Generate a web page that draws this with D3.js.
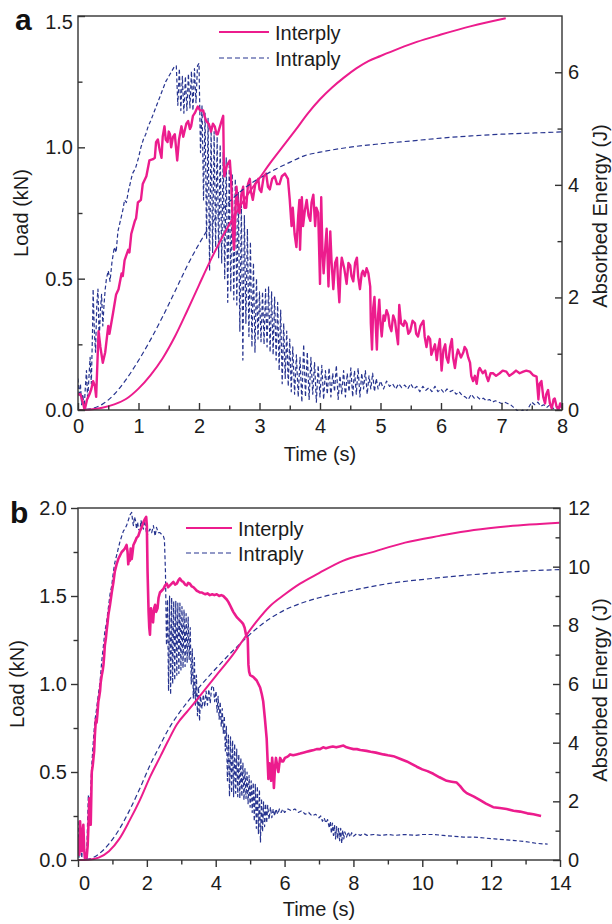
<!DOCTYPE html>
<html><head><meta charset="utf-8">
<script src="https://cdn.jsdelivr.net/npm/d3@7"></script>
<style>
html,body{margin:0;padding:0;background:#fff;}
svg{display:block;font-family:"Liberation Sans",Arial,Helvetica,sans-serif;}
</style></head><body>
<svg id="chart" width="612" height="924"></svg>
<script>
// ---------- DATA (time s, value) ----------
const seriesNames = ["Interply", "Intraply"];

// Panel a : load (kN)
const aInterLoad = [[0,0.06],[0.04,0.06],[0.08,0.03],[0.11,0.0],[0.15,0.04],[0.19,0.06],[0.22,0.08],[0.25,0.11],[0.28,0.09],[0.30,0.05],[0.34,0.30],[0.37,0.24],[0.41,0.18],[0.45,0.22],[0.50,0.32],[0.52,0.29],[0.58,0.37],[0.63,0.44],[0.67,0.46],[0.72,0.52],[0.74,0.51],[0.77,0.57],[0.83,0.61],[0.85,0.60],[0.88,0.67],[0.94,0.72],[0.96,0.73],[0.99,0.79],[1.04,0.80],[1.07,0.86],[1.13,0.89],[1.18,0.95],[1.24,0.955],[1.27,0.96],[1.29,1.02],[1.32,1.03],[1.35,0.99],[1.38,0.96],[1.40,1.04],[1.43,1.08],[1.45,1.03],[1.48,1.02],[1.50,1.06],[1.52,1.05],[1.54,1.0],[1.57,1.04],[1.60,1.05],[1.62,1.0],[1.64,0.95],[1.67,1.03],[1.71,1.08],[1.74,1.04],[1.76,1.06],[1.79,1.09],[1.82,1.10],[1.85,1.07],[1.87,1.08],[1.90,1.12],[1.93,1.13],[1.98,1.155],[2.02,1.14],[2.07,1.14],[2.09,1.12],[2.12,1.10],[2.16,1.09],[2.20,1.06],[2.23,1.09],[2.26,1.08],[2.29,1.05],[2.31,1.05],[2.36,1.09],[2.40,1.12],[2.41,0.95],[2.42,0.89],[2.46,0.93],[2.51,0.95],[2.53,0.88],[2.55,0.76],[2.56,0.67],[2.58,0.61],[2.60,0.75],[2.62,0.85],[2.64,0.79],[2.67,0.75],[2.70,0.82],[2.73,0.85],[2.75,0.77],[2.78,0.77],[2.81,0.86],[2.84,0.88],[2.86,0.83],[2.89,0.80],[2.93,0.86],[2.98,0.88],[3.0,0.84],[3.03,0.83],[3.07,0.89],[3.11,0.90],[3.14,0.85],[3.17,0.84],[3.21,0.88],[3.25,0.89],[3.29,0.86],[3.33,0.86],[3.37,0.89],[3.42,0.90],[3.47,0.88],[3.50,0.80],[3.53,0.70],[3.55,0.77],[3.58,0.67],[3.61,0.62],[3.64,0.74],[3.66,0.80],[3.67,0.61],[3.70,0.81],[3.72,0.70],[3.75,0.76],[3.78,0.80],[3.81,0.74],[3.84,0.72],[3.86,0.79],[3.89,0.82],[3.92,0.70],[3.94,0.77],[3.97,0.75],[4.00,0.48],[4.02,0.81],[4.04,0.61],[4.06,0.52],[4.09,0.63],[4.11,0.69],[4.14,0.47],[4.17,0.68],[4.19,0.57],[4.22,0.46],[4.25,0.56],[4.28,0.58],[4.30,0.48],[4.32,0.41],[4.34,0.53],[4.36,0.58],[4.40,0.54],[4.44,0.48],[4.47,0.56],[4.50,0.55],[4.52,0.51],[4.55,0.49],[4.58,0.56],[4.61,0.58],[4.63,0.51],[4.66,0.46],[4.69,0.52],[4.71,0.53],[4.74,0.51],[4.77,0.54],[4.80,0.52],[4.83,0.47],[4.84,0.33],[4.86,0.23],[4.88,0.39],[4.90,0.43],[4.92,0.33],[4.94,0.23],[4.96,0.36],[4.98,0.42],[5.0,0.33],[5.02,0.28],[5.05,0.36],[5.07,0.34],[5.10,0.38],[5.13,0.36],[5.15,0.32],[5.18,0.30],[5.21,0.36],[5.24,0.34],[5.26,0.30],[5.29,0.25],[5.31,0.40],[5.34,0.33],[5.38,0.32],[5.40,0.34],[5.43,0.33],[5.46,0.29],[5.49,0.30],[5.53,0.34],[5.57,0.33],[5.59,0.29],[5.62,0.28],[5.66,0.32],[5.71,0.34],[5.73,0.28],[5.76,0.24],[5.79,0.28],[5.82,0.27],[5.84,0.21],[5.87,0.23],[5.90,0.25],[5.93,0.19],[5.95,0.23],[5.98,0.27],[6.01,0.15],[6.04,0.23],[6.07,0.25],[6.09,0.20],[6.12,0.18],[6.15,0.24],[6.18,0.27],[6.20,0.20],[6.23,0.16],[6.26,0.21],[6.28,0.23],[6.33,0.20],[6.37,0.22],[6.39,0.24],[6.42,0.23],[6.45,0.20],[6.48,0.18],[6.50,0.13],[6.53,0.11],[6.56,0.13],[6.59,0.10],[6.62,0.15],[6.64,0.16],[6.69,0.14],[6.73,0.15],[6.75,0.13],[6.78,0.11],[6.82,0.14],[6.86,0.14],[6.91,0.13],[6.97,0.14],[7.02,0.15],[7.08,0.146],[7.13,0.13],[7.19,0.14],[7.24,0.15],[7.30,0.14],[7.36,0.146],[7.41,0.15],[7.47,0.146],[7.52,0.133],[7.58,0.127],[7.61,0.04],[7.63,0.10],[7.66,0.11],[7.69,0.05],[7.72,0.025],[7.74,0.06],[7.77,0.076],[7.80,0.025],[7.83,0.006],[7.86,0.04],[7.88,0.044],[7.91,0.013],[7.94,0.0],[7.97,0.025],[8.0,0.006]];

const aIntraLoad = [[0,0.12],[0.02,0.05],[0.04,0.1],[0.06,0.02],[0.08,0.06],[0.1,0.0],[0.12,0.08],[0.14,0.15],[0.16,0.04],[0.18,0.12],[0.2,0.2],[0.22,0.1],[0.24,0.3],[0.25,0.46],[0.27,0.3],[0.29,0.22],[0.31,0.40],[0.33,0.46],[0.35,0.26],[0.37,0.38],[0.39,0.44],[0.41,0.32],[0.43,0.40],[0.45,0.46],[0.47,0.50],[0.5,0.53],[0.53,0.49],[0.56,0.56],[0.6,0.62],[0.63,0.60],[0.66,0.68],[0.7,0.72],[0.74,0.76],[0.77,0.80],[0.8,0.79],[0.83,0.83],[0.87,0.87],[0.9,0.90],[0.95,0.92],[1.0,0.96],[1.04,1.0],[1.08,1.03],[1.12,1.05],[1.16,1.08],[1.2,1.1],[1.25,1.13],[1.3,1.16],[1.35,1.19],[1.4,1.22],[1.45,1.25],[1.5,1.27],[1.55,1.29],[1.6,1.31],[1.625,1.31],[1.65,1.16],[1.675,1.30],[1.70,1.14],[1.725,1.27],[1.75,1.13],[1.775,1.27],[1.80,1.14],[1.825,1.28],[1.85,1.15],[1.875,1.29],[1.90,1.14],[1.925,1.30],[1.95,1.17],[1.975,1.31],[2.0,1.32],[2.025,0.98],[2.05,1.16],[2.075,0.80],[2.10,1.13],[2.125,0.65],[2.15,1.11],[2.175,0.53],[2.20,1.08],[2.225,0.60],[2.25,1.06],[2.275,0.62],[2.30,1.04],[2.325,0.58],[2.35,1.01],[2.375,0.56],[2.40,0.98],[2.425,0.50],[2.45,0.96],[2.475,0.41],[2.50,0.93],[2.525,0.45],[2.55,0.90],[2.575,0.42],[2.60,0.88],[2.625,0.40],[2.65,0.83],[2.675,0.30],[2.70,0.78],[2.725,0.19],[2.75,0.74],[2.775,0.33],[2.80,0.69],[2.825,0.28],[2.85,0.64],[2.875,0.24],[2.90,0.56],[2.925,0.22],[2.95,0.50],[2.975,0.27],[3.0,0.45],[3.025,0.26],[3.05,0.45],[3.075,0.25],[3.10,0.46],[3.125,0.24],[3.15,0.47],[3.175,0.22],[3.20,0.45],[3.225,0.21],[3.25,0.43],[3.275,0.19],[3.30,0.41],[3.325,0.15],[3.35,0.38],[3.375,0.10],[3.40,0.33],[3.425,0.12],[3.45,0.30],[3.475,0.09],[3.50,0.27],[3.525,0.07],[3.55,0.24],[3.58,0.06],[3.61,0.21],[3.64,0.05],[3.67,0.20],[3.70,0.03],[3.73,0.25],[3.76,0.05],[3.79,0.22],[3.82,0.04],[3.85,0.20],[3.88,0.06],[3.91,0.18],[3.94,0.03],[3.97,0.17],[4.0,0.05],[4.03,0.17],[4.06,0.04],[4.09,0.15],[4.12,0.06],[4.15,0.16],[4.18,0.05],[4.21,0.14],[4.24,0.07],[4.27,0.17],[4.30,0.04],[4.33,0.13],[4.36,0.06],[4.39,0.15],[4.42,0.05],[4.45,0.14],[4.48,0.07],[4.51,0.16],[4.54,0.05],[4.57,0.15],[4.60,0.06],[4.63,0.16],[4.66,0.05],[4.69,0.14],[4.72,0.08],[4.75,0.15],[4.78,0.06],[4.81,0.13],[4.84,0.08],[4.87,0.14],[4.90,0.07],[4.93,0.12],[4.96,0.08],[5.0,0.11],[5.05,0.08],[5.1,0.11],[5.15,0.09],[5.2,0.10],[5.25,0.08],[5.3,0.10],[5.35,0.085],[5.4,0.095],[5.45,0.08],[5.5,0.10],[5.55,0.08],[5.6,0.09],[5.65,0.07],[5.7,0.09],[5.75,0.075],[5.8,0.085],[5.85,0.07],[5.9,0.09],[5.95,0.07],[6.0,0.08],[6.05,0.065],[6.1,0.08],[6.15,0.07],[6.2,0.075],[6.25,0.06],[6.3,0.07],[6.35,0.055],[6.4,0.05],[6.45,0.04],[6.5,0.06],[6.55,0.045],[6.6,0.05],[6.65,0.04],[6.7,0.045],[6.75,0.035],[6.8,0.04],[6.85,0.03],[6.9,0.035],[6.95,0.03],[7.0,0.025],[7.05,0.03],[7.1,0.025],[7.15,0.02],[7.2,0.01],[7.25,0.0],[7.3,-0.01],[7.35,0.0],[7.4,-0.01],[7.45,0.01],[7.5,0.03],[7.55,0.02],[7.6,0.03],[7.65,0.015],[7.7,0.02],[7.75,0.01],[7.8,0.02],[7.85,0.005],[7.9,0.015],[7.95,0.01],[8.0,0.02]];

// Panel a : absorbed energy (J)
const aInterEnergy = [[0,0],[0.2,0.01],[0.4,0.04],[0.6,0.1],[0.8,0.2],[1.0,0.38],[1.2,0.62],[1.4,0.92],[1.6,1.3],[1.8,1.75],[2.0,2.22],[2.2,2.68],[2.4,3.1],[2.6,3.48],[2.8,3.82],[3.0,4.12],[3.2,4.42],[3.4,4.7],[3.6,4.98],[3.8,5.27],[4.0,5.52],[4.2,5.73],[4.4,5.91],[4.6,6.07],[4.8,6.2],[5.0,6.29],[5.3,6.42],[5.6,6.54],[6.0,6.67],[6.5,6.82],[7.07,6.96]];
const aIntraEnergy = [[0,0],[0.2,0.02],[0.4,0.1],[0.6,0.28],[0.8,0.55],[1.0,0.88],[1.2,1.25],[1.4,1.66],[1.6,2.1],[1.8,2.55],[2.0,2.95],[2.2,3.3],[2.4,3.58],[2.6,3.8],[2.8,3.98],[3.0,4.12],[3.25,4.27],[3.5,4.4],[3.75,4.52],[4.0,4.58],[4.5,4.67],[5.0,4.73],[5.5,4.78],[6.0,4.83],[6.5,4.87],[7.0,4.9],[7.5,4.92],[8.0,4.94]];

// Panel b : load (kN)
const bInterLoad = [[0.0,0.05],[0.01,0.12],[0.04,0.03],[0.06,0.22],[0.09,0.10],[0.11,0.05],[0.13,0.15],[0.155,0.20],[0.18,0.06],[0.20,0.01],[0.25,0.01],[0.28,0.08],[0.30,0.18],[0.33,0.35],[0.35,0.25],[0.37,0.20],[0.40,0.50],[0.43,0.54],[0.45,0.58],[0.47,0.62],[0.49,0.71],[0.52,0.80],[0.54,0.78],[0.56,0.82],[0.59,0.90],[0.61,0.92],[0.64,0.96],[0.66,1.01],[0.69,1.05],[0.72,1.08],[0.74,1.11],[0.76,1.16],[0.78,1.22],[0.81,1.26],[0.83,1.30],[0.86,1.35],[0.88,1.39],[0.93,1.45],[0.98,1.52],[1.03,1.58],[1.07,1.64],[1.12,1.68],[1.17,1.71],[1.22,1.73],[1.27,1.75],[1.32,1.76],[1.36,1.77],[1.41,1.79],[1.44,1.75],[1.46,1.68],[1.49,1.73],[1.51,1.70],[1.53,1.77],[1.56,1.71],[1.58,1.74],[1.61,1.79],[1.66,1.81],[1.70,1.83],[1.75,1.84],[1.80,1.87],[1.85,1.89],[1.90,1.92],[1.95,1.94],[1.98,1.95],[2.0,1.90],[2.02,1.64],[2.05,1.41],[2.07,1.32],[2.09,1.28],[2.12,1.43],[2.15,1.39],[2.18,1.35],[2.21,1.43],[2.24,1.45],[2.27,1.41],[2.31,1.43],[2.34,1.49],[2.38,1.52],[2.43,1.53],[2.48,1.54],[2.53,1.56],[2.58,1.57],[2.62,1.55],[2.67,1.56],[2.72,1.57],[2.77,1.58],[2.82,1.565],[2.87,1.57],[2.92,1.59],[2.96,1.60],[3.01,1.585],[3.06,1.58],[3.11,1.565],[3.16,1.56],[3.2,1.575],[3.25,1.57],[3.3,1.555],[3.35,1.55],[3.4,1.54],[3.45,1.53],[3.5,1.525],[3.54,1.52],[3.6,1.52],[3.64,1.515],[3.7,1.51],[3.76,1.515],[3.83,1.505],[3.9,1.51],[3.96,1.505],[4.03,1.51],[4.1,1.50],[4.16,1.505],[4.22,1.50],[4.27,1.49],[4.32,1.48],[4.37,1.465],[4.41,1.45],[4.46,1.43],[4.51,1.41],[4.56,1.395],[4.61,1.38],[4.66,1.37],[4.71,1.36],[4.76,1.35],[4.80,1.34],[4.84,1.32],[4.88,1.28],[4.93,1.26],[4.95,1.11],[4.97,1.07],[5.0,1.05],[5.05,1.045],[5.09,1.04],[5.14,1.03],[5.19,1.02],[5.24,1.0],[5.29,0.98],[5.34,0.94],[5.38,0.90],[5.43,0.80],[5.48,0.69],[5.53,0.46],[5.56,0.55],[5.58,0.54],[5.61,0.45],[5.64,0.58],[5.67,0.50],[5.69,0.41],[5.72,0.52],[5.75,0.58],[5.79,0.53],[5.82,0.50],[5.87,0.58],[5.92,0.56],[5.96,0.56],[6.01,0.58],[6.06,0.585],[6.11,0.59],[6.16,0.60],[6.25,0.595],[6.35,0.60],[6.45,0.605],[6.54,0.61],[6.64,0.615],[6.74,0.62],[6.85,0.625],[6.93,0.63],[7.03,0.63],[7.12,0.64],[7.2,0.635],[7.3,0.64],[7.4,0.645],[7.5,0.64],[7.6,0.645],[7.71,0.65],[7.8,0.64],[7.9,0.635],[8.0,0.63],[8.1,0.63],[8.2,0.625],[8.38,0.62],[8.5,0.615],[8.65,0.61],[8.87,0.60],[9.0,0.595],[9.16,0.59],[9.35,0.575],[9.55,0.56],[9.7,0.545],[9.84,0.53],[10.0,0.515],[10.15,0.505],[10.32,0.49],[10.5,0.47],[10.71,0.45],[10.85,0.445],[11.0,0.44],[11.1,0.42],[11.2,0.395],[11.29,0.38],[11.5,0.36],[11.68,0.34],[11.85,0.32],[12.06,0.30],[12.25,0.295],[12.45,0.29],[12.65,0.28],[12.84,0.275],[13.05,0.265],[13.23,0.26],[13.45,0.25]];

const bIntraLoad = [[0.0,0.22],[0.03,0.01],[0.06,0.14],[0.08,0.16],[0.11,0.01],[0.14,0.12],[0.155,0.14],[0.20,0.01],[0.25,0.01],[0.30,0.37],[0.33,0.27],[0.35,0.31],[0.40,0.54],[0.45,0.69],[0.49,0.79],[0.54,0.86],[0.59,0.94],[0.64,1.01],[0.69,1.13],[0.74,1.22],[0.78,1.30],[0.83,1.35],[0.88,1.43],[0.93,1.51],[0.98,1.56],[1.03,1.64],[1.07,1.69],[1.12,1.73],[1.17,1.77],[1.22,1.81],[1.27,1.84],[1.32,1.87],[1.36,1.88],[1.41,1.90],[1.46,1.93],[1.51,1.96],[1.56,1.975],[1.59,1.92],[1.61,1.90],[1.64,1.95],[1.67,1.93],[1.70,1.88],[1.73,1.92],[1.76,1.88],[1.80,1.87],[1.83,1.93],[1.86,1.90],[1.90,1.88],[1.93,1.93],[1.96,1.90],[2.0,1.84],[2.04,1.86],[2.09,1.88],[2.14,1.86],[2.19,1.90],[2.24,1.84],[2.28,1.89],[2.33,1.86],[2.38,1.86],[2.43,1.85],[2.48,1.84],[2.51,1.82],[2.54,1.64],[2.57,1.22],[2.60,1.48],[2.63,0.96],[2.66,1.50],[2.69,0.94],[2.72,1.49],[2.75,1.00],[2.78,1.47],[2.81,1.02],[2.84,1.47],[2.87,1.05],[2.90,1.46],[2.93,1.06],[2.96,1.46],[2.99,1.08],[3.02,1.44],[3.05,1.09],[3.08,1.42],[3.11,1.10],[3.14,1.40],[3.17,1.12],[3.20,1.38],[3.23,1.14],[3.26,1.32],[3.29,1.0],[3.32,1.20],[3.35,0.92],[3.38,1.15],[3.41,0.88],[3.44,1.05],[3.47,0.82],[3.50,0.98],[3.53,0.79],[3.56,0.93],[3.60,0.86],[3.64,0.94],[3.68,0.87],[3.72,0.96],[3.76,0.88],[3.80,0.97],[3.84,0.89],[3.88,0.98],[3.93,0.99],[3.97,0.90],[4.01,0.96],[4.04,0.84],[4.07,0.93],[4.10,0.80],[4.13,0.90],[4.16,0.76],[4.19,0.86],[4.22,0.72],[4.25,0.82],[4.28,0.62],[4.31,0.76],[4.34,0.45],[4.37,0.71],[4.40,0.36],[4.43,0.70],[4.46,0.38],[4.49,0.68],[4.52,0.36],[4.55,0.66],[4.58,0.38],[4.61,0.63],[4.64,0.36],[4.67,0.60],[4.70,0.35],[4.73,0.58],[4.76,0.36],[4.79,0.55],[4.82,0.34],[4.85,0.52],[4.88,0.35],[4.91,0.50],[4.94,0.32],[4.97,0.48],[5.00,0.30],[5.03,0.45],[5.06,0.27],[5.09,0.44],[5.12,0.22],[5.15,0.43],[5.18,0.18],[5.21,0.42],[5.24,0.15],[5.27,0.40],[5.30,0.10],[5.33,0.35],[5.36,0.16],[5.39,0.33],[5.42,0.19],[5.45,0.32],[5.48,0.21],[5.51,0.31],[5.55,0.23],[5.59,0.30],[5.63,0.24],[5.67,0.29],[5.71,0.25],[5.75,0.29],[5.80,0.26],[5.85,0.29],[5.90,0.27],[5.95,0.29],[6.0,0.27],[6.1,0.29],[6.2,0.28],[6.3,0.29],[6.4,0.27],[6.5,0.28],[6.6,0.26],[6.7,0.27],[6.8,0.25],[6.9,0.26],[7.0,0.24],[7.05,0.25],[7.1,0.22],[7.15,0.24],[7.2,0.21],[7.25,0.23],[7.3,0.18],[7.33,0.22],[7.36,0.15],[7.39,0.21],[7.42,0.14],[7.45,0.20],[7.48,0.12],[7.51,0.19],[7.54,0.12],[7.57,0.18],[7.60,0.11],[7.63,0.18],[7.66,0.095],[7.69,0.17],[7.72,0.12],[7.75,0.16],[7.8,0.13],[7.85,0.16],[7.9,0.13],[7.95,0.155],[8.0,0.135],[8.1,0.15],[8.2,0.14],[8.3,0.15],[8.4,0.14],[8.6,0.145],[8.8,0.14],[9.0,0.145],[9.2,0.14],[9.5,0.145],[9.8,0.14],[10.0,0.145],[10.3,0.145],[10.6,0.14],[10.9,0.135],[11.2,0.13],[11.5,0.13],[11.8,0.125],[12.1,0.12],[12.4,0.115],[12.7,0.11],[13.0,0.105],[13.3,0.095],[13.64,0.09]];

// Panel b : absorbed energy (J)
const bInterEnergy = [[0,0],[0.3,0.01],[0.6,0.08],[0.9,0.3],[1.2,0.72],[1.5,1.35],[1.8,2.05],[2.1,2.85],[2.4,3.55],[2.6,4.02],[2.87,4.62],[3.2,5.1],[3.6,5.68],[4.0,6.27],[4.5,7.0],[4.9,7.68],[5.2,8.15],[5.58,8.66],[6.0,9.05],[6.45,9.42],[7.0,9.78],[7.69,10.2],[8.5,10.48],[9.5,10.82],[10.5,11.05],[11.5,11.25],[12.5,11.38],[13.98,11.5]];
const bIntraEnergy = [[0,0],[0.3,0.03],[0.6,0.2],[0.9,0.55],[1.2,1.05],[1.5,1.7],[1.8,2.45],[2.1,3.25],[2.4,3.95],[2.6,4.4],[2.9,4.95],[3.2,5.42],[3.6,6.0],[4.0,6.52],[4.6,7.25],[5.0,7.7],[5.6,8.25],[6.0,8.52],[6.5,8.76],[7.0,8.94],[8.0,9.2],[9.0,9.42],[10.3,9.6],[11.5,9.73],[12.5,9.82],[13.98,9.9]];

// Tick values
const aTimeTicks = [0,1,2,3,4,5,6,7,8];
const aLoadTicks = [0,0.5,1.0,1.5];
const aEnergyTicks = [0,2,4,6];
const bTimeTicks = [0,2,4,6,8,10,12,14];
const bLoadTicks = [0,0.5,1.0,1.5,2.0];
const bEnergyTicks = [0,2,4,6,8,10,12];

// ---------- DRAWING ----------
const PINK = "#EC1C8D", BLUE = "#27348F", INK = "#1c1c1c", AX = "#333";
const svg = d3.select("#chart");

function panel(o) {
  const g = svg.append("g");
  const x = d3.scaleLinear().domain(o.xDom).range([o.L, o.R]);
  const yL = d3.scaleLinear().domain(o.yLDom).range([o.B, o.T]);
  const yR = d3.scaleLinear().domain(o.yRDom).range([o.B, o.T]);
  const cid = "clip" + o.id;
  svg.append("clipPath").attr("id", cid).append("rect")
    .attr("x", o.L).attr("y", o.T).attr("width", o.R - o.L).attr("height", o.B - o.T + 1);

  const lineL = d3.line().x(d => x(d[0])).y(d => yL(d[1]));
  const lineR = d3.line().x(d => x(d[0])).y(d => yR(d[1])).curve(d3.curveMonotoneX);
  const plot = g.append("g").attr("clip-path", `url(#${cid})`);

  plot.append("path").datum(o.intraLoad).attr("d", lineL)
    .attr("fill", "none").attr("stroke", BLUE).attr("stroke-width", 1.2)
    .attr("stroke-dasharray", "4,2.5").attr("stroke-linejoin", "round");
  plot.append("path").datum(o.interLoad).attr("d", lineL)
    .attr("fill", "none").attr("stroke", PINK).attr("stroke-width", o.pinkW)
    .attr("stroke-linejoin", "round");
  plot.append("path").datum(o.intraE).attr("d", lineR)
    .attr("fill", "none").attr("stroke", BLUE).attr("stroke-width", 1.2)
    .attr("stroke-dasharray", "5,3");
  plot.append("path").datum(o.interE).attr("d", lineR)
    .attr("fill", "none").attr("stroke", PINK).attr("stroke-width", 2);

  // frame
  g.append("rect").attr("x", o.L).attr("y", o.T).attr("width", o.R - o.L).attr("height", o.B - o.T)
    .attr("fill", "none").attr("stroke", AX).attr("stroke-width", 1.4);

  const style = sel => {
    sel.select(".domain").remove();
    sel.selectAll("line").attr("stroke", AX).attr("stroke-width", 1.4);
    sel.selectAll("text").attr("fill", INK).style("font-size", "20px")
      .style("font-family", '"Liberation Sans", Arial, sans-serif');
  };
  const dir = o.inward ? -1 : 1;

  // x axis
  g.append("g").attr("transform", `translate(0,${o.B})`)
    .call(d3.axisBottom(x).tickValues(o.xTicks).tickFormat(d3.format("d"))
      .tickSize(7 * dir).tickSizeOuter(0).tickPadding(9)).call(style)
    .call(s => { if (o.zeroShift) s.selectAll(".tick text").filter(d => d === 0).attr("dx", o.zeroShift); });
  g.append("g").attr("transform", `translate(0,${o.B})`)
    .call(d3.axisBottom(x).tickValues(o.xMinor).tickFormat("").tickSize(4.5 * dir).tickSizeOuter(0)).call(style);

  // left axis
  g.append("g").attr("transform", `translate(${o.L},0)`)
    .call(d3.axisLeft(yL).tickValues(o.yLTicks).tickFormat(d3.format(".1f"))
      .tickSize(7 * dir).tickSizeOuter(0).tickPadding(o.inward ? 5 : 4)).call(style)
    .call(s => { if (o.topShift) s.selectAll(".tick text").filter(d => d === o.yLDom[1]).attr("dy", "0.62em"); });
  g.append("g").attr("transform", `translate(${o.L},0)`)
    .call(d3.axisLeft(yL).tickValues(o.yLMinor).tickFormat("").tickSize(4.5 * dir).tickSizeOuter(0)).call(style);

  // right axis (inward ticks in both panels)
  g.append("g").attr("transform", `translate(${o.R},0)`)
    .call(d3.axisRight(yR).tickValues(o.yRTicks).tickFormat(d3.format("d"))
      .tickSize(-7).tickSizeOuter(0).tickPadding(o.rPad)).call(style);
  g.append("g").attr("transform", `translate(${o.R},0)`)
    .call(d3.axisRight(yR).tickValues(o.yRMinor).tickFormat("").tickSize(-4.5).tickSizeOuter(0)).call(style);

  // axis titles
  const tstyle = t => t.attr("fill", INK).style("font-size", "20px").attr("text-anchor", "middle");
  g.append("text").attr("x", (o.L + o.R) / 2).attr("y", o.xTitleY).text("Time (s)").call(tstyle);
  g.append("text").attr("transform", `translate(${o.yLTitleX},${(o.T + o.B) / 2}) rotate(-90)`).text("Load (kN)").call(tstyle);
  g.append("text").attr("transform", `translate(${o.yRTitleX},${o.yRTitleY}) rotate(-90)`).text("Absorbed Energy (J)").call(tstyle);

  // panel letter
  g.append("text").attr("x", o.letterX).attr("y", o.letterY).text(o.id)
    .attr("fill", "#111").style("font-size", "30px").style("font-weight", "bold");

  // legend
  const lg = g.append("g").attr("transform", `translate(${o.legX},${o.legY})`);
  seriesNames.forEach((n, i) => {
    const yy = i * o.legGap;
    lg.append("line").attr("x1", 0).attr("x2", o.legLen).attr("y1", yy).attr("y2", yy)
      .attr("stroke", i === 0 ? PINK : BLUE).attr("stroke-width", i === 0 ? 2 : 1.2)
      .attr("stroke-dasharray", i === 0 ? null : "5,3");
    lg.append("text").attr("x", o.legLen + 6).attr("y", yy + 7.5).text(n)
      .attr("fill", INK).style("font-size", "20px");
  });
}

panel({
  id: "a", L: 78, R: 562, T: 16, B: 410,
  xDom: [0, 8], yLDom: [0, 1.5], yRDom: [0, 7],
  interLoad: aInterLoad, intraLoad: aIntraLoad, interE: aInterEnergy, intraE: aIntraEnergy,
  pinkW: 2.4, inward: true, topShift: true,
  xTicks: aTimeTicks, xMinor: d3.range(0.5, 8, 1),
  yLTicks: aLoadTicks, yLMinor: [0.25, 0.75, 1.25],
  yRTicks: aEnergyTicks, yRMinor: [1, 3, 5], rPad: 6,
  xTitleY: 461, yLTitleX: 28, yRTitleX: 607, yRTitleY: 216,
  letterX: 15, letterY: 30,
  legX: 219, legY: 32, legLen: 50, legGap: 26
});

panel({
  id: "b", L: 78, R: 560, T: 508, B: 860,
  xDom: [0, 14], yLDom: [0, 2], yRDom: [0, 12],
  interLoad: bInterLoad, intraLoad: bIntraLoad, interE: bInterEnergy, intraE: bIntraEnergy,
  pinkW: 2.6, inward: false, zeroShift: 6,
  xTicks: bTimeTicks, xMinor: d3.range(1, 14, 2),
  yLTicks: bLoadTicks, yLMinor: [0.25, 0.75, 1.25, 1.75],
  yRTicks: bEnergyTicks, yRMinor: [1, 3, 5, 7, 9, 11], rPad: 8,
  xTitleY: 916, yLTitleX: 24, yRTitleX: 607, yRTitleY: 690,
  letterX: 10, letterY: 523,
  legX: 186, legY: 528, legLen: 46, legGap: 25
});
</script>
</body></html>
